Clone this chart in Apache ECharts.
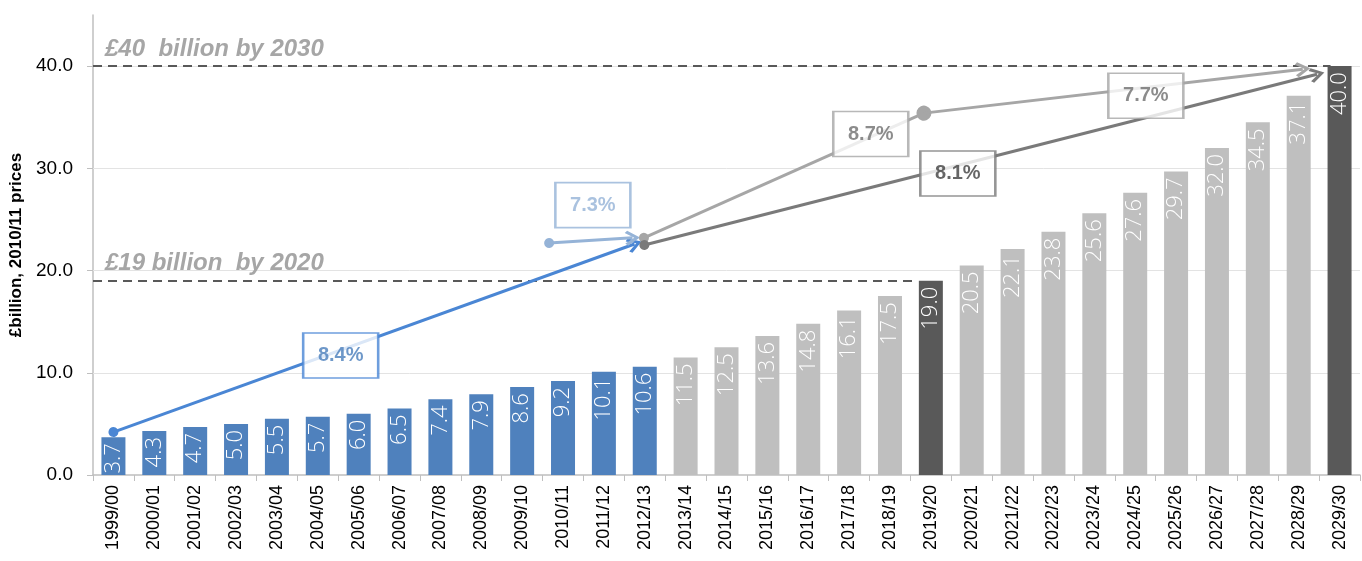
<!doctype html>
<html lang="en">
<head>
    <meta charset="utf-8">
    <title>Spending path to 2030</title>
    <script src="https://cdn.jsdelivr.net/npm/echarts@6/dist/echarts.min.js"></script>
    <style>
        html, body { margin: 0; padding: 0; background: #fff; }
        #chart { width: 1362px; height: 561px; }
    </style>
</head>
<body>
    <div id="chart"></div>

    <script type="text/javascript">
        // data
        var years = ['1999/00', '2000/01', '2001/02', '2002/03', '2003/04', '2004/05', '2005/06', '2006/07',
            '2007/08', '2008/09', '2009/10', '2010/11', '2011/12', '2012/13', '2013/14', '2014/15', '2015/16',
            '2016/17', '2017/18', '2018/19', '2019/20', '2020/21', '2021/22', '2022/23', '2023/24', '2024/25',
            '2025/26', '2026/27', '2027/28', '2028/29', '2029/30'];
        var spend = [3.7, 4.3, 4.7, 5.0, 5.5, 5.7, 6.0, 6.5, 7.4, 7.9, 8.6, 9.2, 10.1, 10.6, 11.5, 12.5, 13.6,
            14.8, 16.1, 17.5, 19.0, 20.5, 22.1, 23.8, 25.6, 27.6, 29.7, 32.0, 34.5, 37.1, 40.0];
        var lastOutturn = '2012/13';
        var targetYears = ['2019/20', '2029/30'];
        var yTicks = [0, 10, 20, 30, 40];

        // target lines (value, last category position it reaches)
        var target2020 = 19, target2020End = 19.64;
        var target2030 = 40, target2030End = 29.78;

        // growth arrows, in (category position, £bn)
        var arrowHistoric = [[0, 4.2], [12.75, 22.6]];
        var arrowRecent = [[10.66, 22.7], [12.7, 23.2]];
        var arrowFast1 = [[12.98, 23.2], [19.83, 35.4]];
        var arrowFast2 = [[19.83, 35.4], [29.1, 39.7]];
        var arrowSteady = [[12.99, 22.5], [29.45, 39.2]];

        // growth rate boxes
        var rateLabels = ['8.4%', '7.3%', '8.7%', '8.1%', '7.7%'];
        var rateX = [5.56, 11.73, 18.53, 20.66, 25.26];
        var rateY = [11.7, 26.4, 33.35, 29.5, 37.1];

        var BLUE = '#4f81bd', LINE_BLUE = '#4a86d4', LIGHT_BLUE = '#95b3d7';
        var GREY = '#bfbfbf', DARK = '#595959', MID = '#a6a6a6', DARKLINE = '#7a7a7a';
        var chevron = 'path://M10,0 L20,12 L17,14.5 L10,5.5 L3,14.5 L0,12 Z';

        var lastIdx = years.indexOf(lastOutturn);
        var barData = spend.map(function (v, i) {
            var c = i <= lastIdx ? BLUE : (targetYears.indexOf(years[i]) >= 0 ? DARK : GREY);
            return { value: v, itemStyle: { color: c } };
        });

        var boxStyles = [
            { border: LINE_BLUE, text: '#4a7ebb' },
            { border: LIGHT_BLUE, text: LIGHT_BLUE },
            { border: MID, text: '#6f6f6f' },
            { border: DARKLINE, text: '#404040' },
            { border: MID, text: '#6f6f6f' }
        ];
        var boxData = rateLabels.map(function (t, i) {
            return {
                name: t,
                value: [rateX[i], rateY[i]],
                itemStyle: { color: '#fff', borderColor: boxStyles[i].border, borderWidth: 2 },
                label: { color: boxStyles[i].text }
            };
        });

        function arrow(name, coords, color, symbols, z) {
            return {
                name: name,
                type: 'lines',
                coordinateSystem: 'cartesian2d',
                xAxisIndex: 1,
                yAxisIndex: 0,
                silent: true,
                z: z || 4,
                symbol: symbols,
                symbolSize: [10, 15],
                lineStyle: { color: color, width: 3, opacity: 1 },
                data: [{ coords: coords }]
            };
        }

        var targetLabel = {
            show: true,
            position: 'insideStartTop',
            fontFamily: 'Liberation Sans',
            fontStyle: 'italic',
            fontWeight: 'bold',
            fontSize: 24,
            color: MID,
            distance: [12, 5]
        };

        var myChart = echarts.init(document.getElementById('chart'));
        var option = {
            animation: false,
            grid: { left: 93, right: 2, top: 15, bottom: 86 },
            xAxis: [
                {
                    type: 'category',
                    data: years,
                    boundaryGap: true,
                    axisLine: { lineStyle: { color: '#bfbfbf', width: 1.5 } },
                    axisTick: { show: true, length: 6, lineStyle: { color: '#bfbfbf' } },
                    axisLabel: {
                        interval: 0, rotate: 90, margin: 10,
                        fontFamily: 'Liberation Sans', fontSize: 18, color: '#000'
                    }
                },
                { type: 'value', min: -0.5, max: 30.5, show: false }
            ],
            yAxis: {
                type: 'value',
                min: 0,
                max: 45,
                interval: 10,
                name: '£billion, 2010/11 prices',
                nameLocation: 'middle',
                nameGap: 64,
                nameTextStyle: { fontFamily: 'Liberation Sans', fontWeight: 'bold', fontSize: 17, color: '#000' },
                axisLine: { show: true, onZero: false, lineStyle: { color: '#bfbfbf', width: 1.5 } },
                axisTick: { show: true, length: 6, lineStyle: { color: '#bfbfbf' }, customValues: yTicks },
                axisLabel: {
                    customValues: yTicks, margin: 20,
                    formatter: function (v) { return v.toFixed(1); },
                    fontFamily: 'Liberation Sans', fontSize: 19, color: '#000'
                },
                splitLine: { show: false }
            },
            series: [
                {
                    name: 'spend',
                    type: 'bar',
                    barWidth: 24,
                    data: barData,
                    z: 3,
                    label: {
                        show: true,
                        position: 'insideTop',
                        rotate: 90,
                        align: 'right',
                        verticalAlign: 'middle',
                        distance: 6,
                        fontFamily: 'Open Sans',
                        fontWeight: 300,
                        fontSize: 22,
                        color: '#fff',
                        formatter: function (p) { return p.value.toFixed(1); }
                    },
                    markLine: {
                        silent: true,
                        symbol: 'none',
                        z: 1,
                        label: { show: false },
                        lineStyle: { color: '#e3e3e3', type: 'solid', width: 1 },
                        data: yTicks.slice(1).map(function (v) { return { yAxis: v }; })
                    }
                },
                {
                    name: 'targets',
                    type: 'lines',
                    coordinateSystem: 'cartesian2d',
                    xAxisIndex: 1,
                    yAxisIndex: 0,
                    silent: true,
                    z: 2,
                    lineStyle: { color: DARK, width: 2, type: [9, 6], opacity: 1 },
                    data: [
                        { coords: [[-0.5, target2030], [target2030End, target2030]],
                          label: Object.assign({ formatter: '£40  billion by 2030' }, targetLabel) },
                        { coords: [[-0.5, target2020], [target2020End, target2020]],
                          label: Object.assign({ formatter: '£19 billion  by 2020' }, targetLabel) }
                    ]
                },
                arrow('historic', arrowHistoric, LINE_BLUE, ['circle', chevron]),
                arrow('recent', arrowRecent, LIGHT_BLUE, ['circle', chevron]),
                arrow('fast1', arrowFast1, MID, ['circle', 'circle']),
                arrow('fast2', arrowFast2, MID, ['none', chevron]),
                arrow('steady', arrowSteady, DARKLINE, ['circle', chevron], 5),
                {
                    name: 'rates',
                    type: 'scatter',
                    xAxisIndex: 1,
                    yAxisIndex: 0,
                    silent: true,
                    z: 6,
                    symbol: 'rect',
                    symbolSize: [75, 45],
                    data: boxData,
                    label: {
                        show: true,
                        position: 'inside',
                        formatter: '{b}',
                        fontFamily: 'Liberation Sans',
                        fontWeight: 'bold',
                        fontSize: 20
                    }
                }
            ]
        };
        myChart.setOption(option);
    </script>
</body>
</html>
